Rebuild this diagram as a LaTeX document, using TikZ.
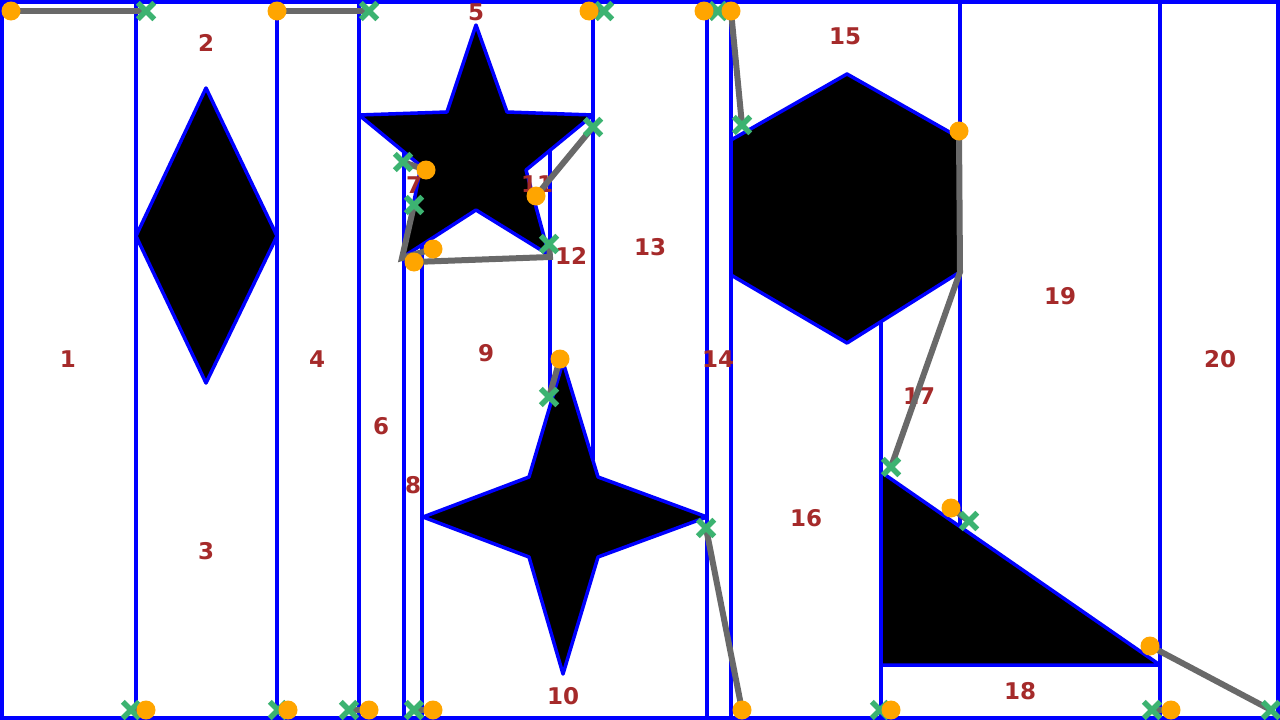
\documentclass[tikz,border=0pt]{standalone}
\usepackage{fontspec}
\setmainfont{DejaVu Sans}
\usetikzlibrary{shapes.misc}
\definecolor{bl}{RGB}{0,0,255}
\definecolor{lbl}{RGB}{165,42,42}
\definecolor{org}{RGB}{255,165,0}
\definecolor{grn}{RGB}{60,179,113}
\definecolor{gry}{RGB}{105,105,105}
\begin{document}
\begin{tikzpicture}[x=1pt,y=-1pt,
 wall/.style={draw=bl, line width=4.2pt},
 solidshape/.style={fill=black, draw=bl, line width=3.5pt, line join=round},
 lab/.style={text=lbl, font=\fontsize{23}{23}\selectfont\bfseries, inner sep=0pt},
 link/.style={draw=gry, line width=6pt},
 dot/.style={circle, fill=org, minimum size=19pt, inner sep=0pt},
 cross/.style={cross out, draw=grn, line width=5.5pt, minimum size=11pt, inner sep=0pt}]
\useasboundingbox (0,0) rectangle (1280,720);
\fill[white] (0,0) rectangle (1280,720);
% walls
\draw[wall] (136,0) -- (136,720);
\draw[wall] (277,0) -- (277,720);
\draw[wall] (359,0) -- (359,720);
\draw[wall] (404,150) -- (404,720);
\draw[wall] (422,245) -- (422,720);
\draw[wall] (550,150) -- (550,400);
\draw[wall] (593,0) -- (593,460);
\draw[wall] (707,0) -- (707,720);
\draw[wall] (731,0) -- (731,720);
\draw[wall] (881,320) -- (881,720);
\draw[wall] (960,0) -- (960,140);
\draw[wall] (960,270) -- (960,527);
\draw[wall] (1160,0) -- (1160,720);
\draw[wall] (881,665) -- (1160,665);
% shapes
\draw[solidshape] (206,88) -- (277,236) -- (206,383) -- (136,236) -- cycle;
\draw[solidshape] (476,25) -- (507,112) -- (593,115) -- (526,170) -- (549,255) -- (476,210) -- (403,257) -- (421,166) -- (359,115) -- (447,112) -- cycle;
\draw[solidshape] (563,362) -- (598,477) -- (707,517) -- (598,557) -- (563,674) -- (529,557) -- (423,517) -- (529,477) -- cycle;
\draw[solidshape] (847,74) -- (960,138) -- (960,272) -- (847,343) -- (731,275) -- (731,140) -- cycle;
\draw[solidshape] (881,472) -- (1160,665) -- (881,665) -- cycle;
\draw[draw=bl, line width=4pt] (2,2) rectangle (1278,718);
% labels
\node[lab] (l1) at (68,359) {1};
\node[lab] (l2) at (206,43) {2};
\node[lab] (l3) at (206,551) {3};
\node[lab] (l4) at (317,359) {4};
\node[lab] (l5) at (476,12) {5};
\node[lab] (l6) at (381,426) {6};
\node[lab] (l7) at (414,185) {7};
\node[lab] (l8) at (413,485) {8};
\node[lab] (l9) at (486,353) {9};
\node[lab] (l10) at (563,696) {10};
\node[lab] (l11) at (537,184) {11};
\node[lab] (l12) at (571,256) {12};
\node[lab] (l13) at (650,247) {13};
\node[lab] (l14) at (718,359) {14};
\node[lab] (l15) at (845,36) {15};
\node[lab] (l16) at (806,518) {16};
\node[lab] (l17) at (919,396) {17};
\node[lab] (l18) at (1020,691) {18};
\node[lab] (l19) at (1060,296) {19};
\node[lab] (l20) at (1220,359) {20};
% marker positions
\coordinate (o1) at (11,11);   \coordinate (g1) at (146,11);
\coordinate (o2) at (277,11);  \coordinate (g2) at (369,11);
\coordinate (o3) at (589,11);  \coordinate (g3) at (604,11);
\coordinate (o4) at (704,11);  \coordinate (g4) at (718,11);
\coordinate (o5) at (731,11);  \coordinate (g5) at (742,125);
\coordinate (g6) at (403,162); \coordinate (o6) at (426,170);
\coordinate (g7) at (414,205); \coordinate (b7) at (402,258); \coordinate (o7) at (433,249);
\coordinate (o8) at (414,262); \coordinate (b8) at (550,257); \coordinate (g8) at (549,244);
\coordinate (g9) at (593,127); \coordinate (o9) at (536,196);
\coordinate (o10) at (560,359); \coordinate (g10) at (549,397);
\coordinate (g11) at (706,528); \coordinate (o11) at (742,710);
\coordinate (o12) at (959,131); \coordinate (b12) at (960,272); \coordinate (g12) at (891,467);
\coordinate (o13) at (951,508); \coordinate (g13) at (969,521);
\coordinate (o14) at (1150,646); \coordinate (g14) at (1271,710);
\coordinate (g15) at (131,710); \coordinate (o15) at (146,710);
\coordinate (g16) at (278,710); \coordinate (o16) at (288,710);
\coordinate (g17) at (349,710); \coordinate (o17) at (369,710);
\coordinate (g18) at (414,710); \coordinate (o18) at (433,710);
\coordinate (g19) at (880,710); \coordinate (o19) at (891,710);
\coordinate (g20) at (1152,710); \coordinate (o20) at (1171,710);
% connectors
\draw[link] (o1) -- (g1);
\draw[link] (o2) -- (g2);
\draw[link] (o3) -- (g3);
\draw[link] (o4) -- (g4);
\draw[link] (o5) -- (g5);
\draw[link] (g6) -- (o6);
\draw[link] (g7) -- (b7) -- (o7);
\draw[link] (o8) -- (b8) -- (g8);
\draw[link] (g9) -- (o9);
\draw[link] (o10) -- (g10);
\draw[link] (g11) -- (o11);
\draw[link] (o12) -- (b12) -- (g12);
\draw[link] (o13) -- (g13);
\draw[link] (o14) -- (g14);
\foreach \i in {15,...,20} { \draw[link] (g\i) -- (o\i); }
% markers
\foreach \i in {1,...,20} {
  \node[cross] (G\i) at (g\i) {};
  \node[dot] (O\i) at (o\i) {};
}
\end{tikzpicture}
\end{document}
